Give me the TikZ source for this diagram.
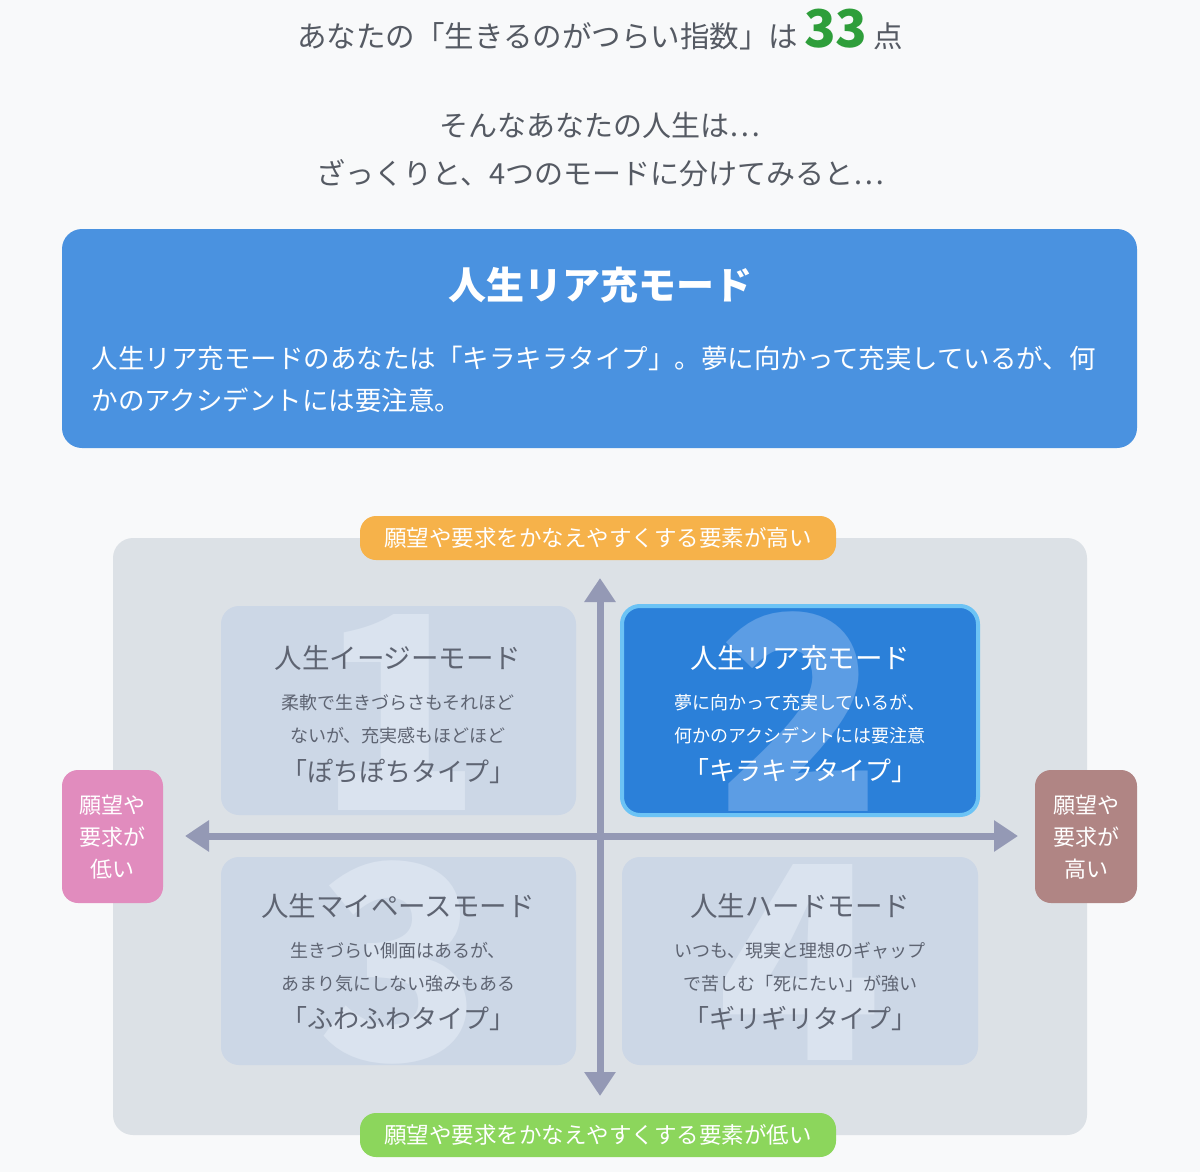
\documentclass[tikz,border=0pt]{standalone}
\usepackage{fontspec}
\setmainfont{Noto Sans CJK JP}
\definecolor{txtgray}{HTML}{555A63}
\definecolor{scoregreen}{HTML}{2E9E3A}
\definecolor{mainblue}{HTML}{4A92E0}
\definecolor{panelgray}{HTML}{DCE1E6}
\definecolor{quadfill}{HTML}{CCD7E6}
\definecolor{quadblue}{HTML}{2B80D9}
\definecolor{quadborder}{HTML}{6CC3F5}
\definecolor{axiscol}{HTML}{9499B5}
\definecolor{orangepill}{HTML}{F6B24A}
\definecolor{greenpill}{HTML}{8CD65C}
\definecolor{pinkbox}{HTML}{E18CBE}
\definecolor{brownbox}{HTML}{B08584}
\definecolor{quadtext}{HTML}{5E6472}
\definecolor{digitlight}{HTML}{DAE3EF}
\definecolor{digitblue}{HTML}{5C9DE4}
\newcommand{\fs}[1]{\fontsize{#1}{#1}\selectfont}
\usetikzlibrary{arrows.meta}
\tikzset{
 quad/.style={fill=quadfill,rounded corners=18pt},
 pill/.style={rounded corners=14pt,text=white,font=\fs{22.5}},
 sidebox/.style={rounded corners=16pt,text=white,align=center,font=\fontsize{22}{32}\selectfont},
 qtitle/.style={font=\fs{27.5},text=quadtext},
 qline/.style={font=\fs{18},text=quadtext},
 qtype/.style={font=\fs{26},text=quadtext},
 digit/.style={font=\bfseries\fs{270},text=digitlight},
 axis/.style={draw=axiscol,line width=7pt,-{Triangle[length=24pt,width=30pt]}},
}
\begin{document}
\begin{tikzpicture}[x=1pt,y=-1pt]
\fill[color=white!80!panelgray] (0,0) rectangle (1200,1172);
\useasboundingbox (0,0) rectangle (1200,1172);
% header
\node[text=txtgray,font=\fs{29.5},anchor=base] (h1) at (600,48) {あなたの「生きるのがつらい指数」は\hspace{6pt}\textcolor{scoregreen}{\fs{52}\bfseries 33}\hspace{6pt}点};
\node[text=txtgray,font=\fs{29}] (h2) at (600,125) {そんなあなたの人生は…};
\node[text=txtgray,font=\fs{29}] (h3) at (600,173) {ざっくりと、4つのモードに分けてみると…};
% main box
\fill[mainblue,rounded corners=20pt] (62,229) rectangle (1137,448);
\node[text=white,font=\bfseries\fs{38}] (mt) at (600,285) {人生リア充モード};
\node[text=white,font=\fs{26.5},anchor=west] (m1) at (88,358) {人生リア充モードのあなたは「キラキラタイプ」。夢に向かって充実しているが、何};
\node[text=white,font=\fs{26.5},anchor=west] (m2) at (88,400) {かのアクシデントには要注意。};
% panel
\fill[panelgray,rounded corners=20pt] (113,538) rectangle (1087,1135);
% quadrants
\fill[quad] (221,606) rectangle (576,815);
\fill[quad] (221,857) rectangle (576,1065);
\fill[quad] (622,857) rectangle (978,1065);
\fill[quadblue,draw=quadborder,line width=4pt,rounded corners=18pt] (622,606) rectangle (978,815);
\node[digit] (d1) at (400,712) {1};
\node[digit,text=digitblue] (d2) at (800,712) {2};
\node[digit] (d3) at (400,962) {3};
\node[digit] (d4) at (800,962) {4};
\node[qtitle] (t1) at (398,658) {人生イージーモード};
\node[qline] (a1) at (398,703) {柔軟で生きづらさもそれほど};
\node[qline] (b1) at (398,736) {ないが、充実感もほどほど};
\node[qtype] (c1) at (398,771) {「ぽちぽちタイプ」};
\node[qtitle,text=white] (t2) at (800,658) {人生リア充モード};
\node[qline,text=white] (a2) at (800,703) {夢に向かって充実しているが、};
\node[qline,text=white] (b2) at (800,736) {何かのアクシデントには要注意};
\node[qtype,text=white] (c2) at (800,771) {「キラキラタイプ」};
\node[qtitle] (t3) at (398,906) {人生マイペースモード};
\node[qline] (a3) at (398,951) {生きづらい側面はあるが、};
\node[qline] (b3) at (398,984) {あまり気にしない強みもある};
\node[qtype] (c3) at (398,1019) {「ふわふわタイプ」};
\node[qtitle] (t4) at (800,906) {人生ハードモード};
\node[qline] (a4) at (800,951) {いつも、現実と理想のギャップ};
\node[qline] (b4) at (800,984) {で苦しむ「死にたい」が強い};
\node[qtype] (c4) at (800,1019) {「ギリギリタイプ」};
% axes
\coordinate (vt) at (600,578);
\coordinate (vb) at (600,1096);
\coordinate (hl) at (185,836);
\coordinate (hr) at (1018,836);
\coordinate (c) at (600,836);
\draw[axis] (c) -- (vt);
\draw[axis] (c) -- (vb);
\draw[axis] (c) -- (hl);
\draw[axis] (c) -- (hr);
% pills
\fill[orangepill,rounded corners=16pt] (360,516) rectangle (836,560);
\node[pill] (top) at (598,538) {願望や要求をかなえやすくする要素が高い};
\fill[greenpill,rounded corners=16pt] (360,1113) rectangle (836,1157);
\node[pill] (bot) at (598,1135) {願望や要求をかなえやすくする要素が低い};
\fill[pinkbox,rounded corners=16pt] (62,770) rectangle (163,903);
\node[sidebox] (lb) at (112.5,837) {願望や\\要求が\\低い};
\fill[brownbox,rounded corners=16pt] (1035,770) rectangle (1137,903);
\node[sidebox] (rb) at (1086,837) {願望や\\要求が\\高い};
\end{tikzpicture}
\end{document}
